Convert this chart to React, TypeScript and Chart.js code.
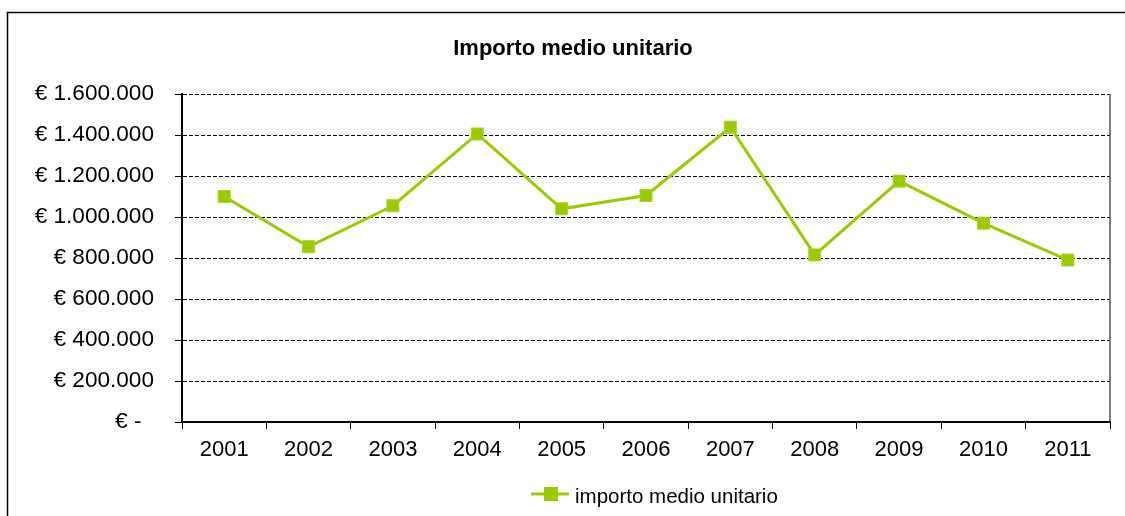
import React, { useEffect, useRef } from 'react';
import { Chart, registerables } from 'chart.js';

Chart.register(...registerables);

const categories = ['2001', '2002', '2003', '2004', '2005', '2006', '2007', '2008', '2009', '2010', '2011'];
const importoValues = [1100000, 855000, 1055000, 1405000, 1040000, 1105000, 1438000, 815000, 1175000, 970000, 790000];
const yTickValues = [0, 200000, 400000, 600000, 800000, 1000000, 1200000, 1400000, 1600000];
const yTickLabels = ['€ -  ', '€ 200.000', '€ 400.000', '€ 600.000', '€ 800.000', '€ 1.000.000', '€ 1.200.000', '€ 1.400.000', '€ 1.600.000'];
const titleText = 'Importo medio unitario';
const seriesLabel = 'importo medio unitario';

const GREEN = '#99CC00';
const FONT = "'Liberation Sans', Arial, sans-serif";

const decorPlugin = {
  id: 'decor',
  afterDraw(chart: any) {
    const ctx = chart.ctx;
    const area = chart.chartArea;
    ctx.save();
    // outer frame
    ctx.strokeStyle = '#000';
    ctx.lineWidth = 1.5;
    ctx.beginPath();
    ctx.moveTo(7.5, 600);
    ctx.lineTo(7.5, 12.5);
    ctx.lineTo(1200, 12.5);
    ctx.stroke();
    // right plot border
    ctx.strokeStyle = '#555';
    ctx.lineWidth = 1.5;
    ctx.beginPath();
    ctx.moveTo(area.right, area.top);
    ctx.lineTo(area.right, area.bottom);
    ctx.stroke();
    // title
    ctx.fillStyle = '#000';
    ctx.font = `bold 22px ${FONT}`;
    ctx.textAlign = 'center';
    ctx.textBaseline = 'alphabetic';
    ctx.fillText(titleText, 573, 55);
    // legend
    ctx.strokeStyle = GREEN;
    ctx.lineWidth = 3;
    ctx.beginPath();
    ctx.moveTo(531, 494);
    ctx.lineTo(569, 494);
    ctx.stroke();
    ctx.fillStyle = GREEN;
    ctx.fillRect(544, 487, 14, 14);
    ctx.fillStyle = '#000';
    ctx.font = `20.5px ${FONT}`;
    ctx.textAlign = 'left';
    ctx.fillText(seriesLabel, 575, 503);
    ctx.restore();
  },
};

export default function App() {
  const ref = useRef<HTMLCanvasElement | null>(null);

  useEffect(() => {
    if (!ref.current) return;
    const chart = new Chart(ref.current, {
      type: 'line',
      data: {
        labels: categories,
        datasets: [
          {
            label: seriesLabel,
            data: importoValues,
            borderColor: GREEN,
            backgroundColor: GREEN,
            borderWidth: 3,
            pointStyle: 'rect',
            pointRadius: 8.5,
            pointBorderWidth: 1,
            pointBorderColor: '#a8d42a',
            pointBackgroundColor: GREEN,
            tension: 0,
          },
        ],
      },
      options: {
        responsive: false,
        animation: false,
        devicePixelRatio: 1,
        layout: { padding: { top: 94, left: 0, right: 15, bottom: 0 } },
        plugins: {
          legend: { display: false },
          title: { display: false },
          tooltip: { enabled: false },
        },
        scales: {
          x: {
            type: 'category',
            offset: true,
            afterFit: (scale: any) => {
              scale.height = 94;
            },
            grid: {
              display: true,
              offset: true,
              drawOnChartArea: false,
              drawTicks: true,
              tickLength: 7,
              color: '#000',
              tickColor: '#000',
              tickWidth: 1,
            },
            border: { display: true, color: '#000', width: 2 },
            ticks: {
              color: '#000',
              font: { family: FONT, size: 22 },
              padding: 8,
              maxRotation: 0,
              autoSkip: false,
            },
          },
          y: {
            min: 0,
            max: 1600000,
            afterFit: (scale: any) => {
              scale.width = 182;
            },
            afterBuildTicks: (scale: any) => {
              scale.ticks = yTickValues.map((v) => ({ value: v }));
            },
            grid: {
              display: true,
              drawOnChartArea: true,
              drawTicks: true,
              tickLength: 7,
              color: '#000',
              lineWidth: 1,
              tickColor: '#000',
              tickWidth: 1,
              tickBorderDash: [],
            },
            border: { display: true, color: '#000', width: 2, dash: [4, 2] },
            ticks: {
              color: '#000',
              font: { family: FONT, size: 22.6 },
              padding: 21,
              callback: (value: any) => {
                const i = yTickValues.indexOf(Number(value));
                return i >= 0 ? yTickLabels[i] : '';
              },
            },
          },
        },
      },
      plugins: [decorPlugin],
    });
    return () => chart.destroy();
  }, []);

  return (
    <div style={{ position: 'absolute', left: 0, top: 0, width: 1125, height: 516, background: '#fff', overflow: 'hidden' }}>
      <canvas ref={ref} width={1125} height={516} style={{ width: 1125, height: 516, display: 'block' }} />
    </div>
  );
}
